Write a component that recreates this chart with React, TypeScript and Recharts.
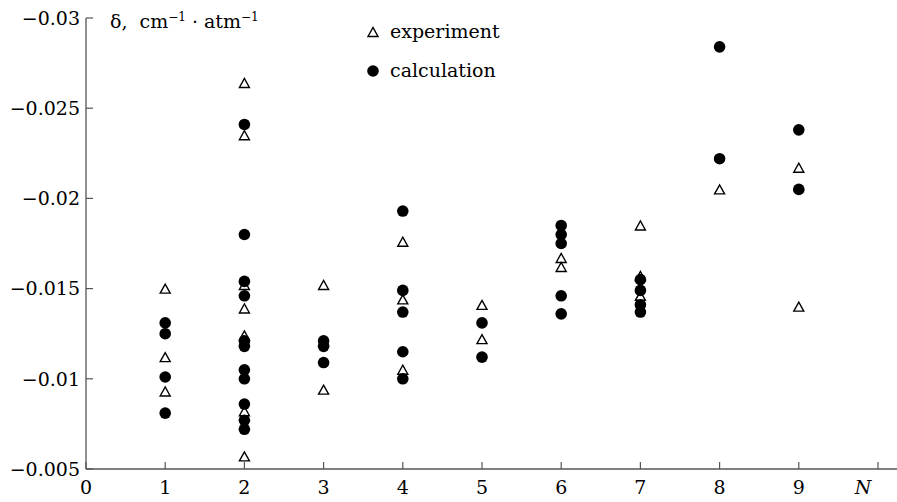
import React from 'react';
import { ScatterChart, Scatter, XAxis, YAxis, Legend } from 'recharts';

// experiment (open triangles)
const expN = [1, 1, 1, 2, 2, 2, 2, 2, 2, 2, 3, 3, 4, 4, 4, 5, 5, 6, 6, 7, 7, 7, 8, 9, 9];
const expDelta = [
  -0.015, -0.0112, -0.0093,
  -0.0264, -0.0235, -0.0152, -0.0139, -0.0124, -0.0082, -0.0057,
  -0.0152, -0.0094,
  -0.0176, -0.0144, -0.0105,
  -0.0141, -0.0122,
  -0.0167, -0.0162,
  -0.0185, -0.0157, -0.0146,
  -0.0205,
  -0.0217, -0.014,
];

// calculation (filled circles)
const calcN = [
  1, 1, 1, 1,
  2, 2, 2, 2, 2, 2, 2, 2, 2, 2, 2,
  3, 3, 3,
  4, 4, 4, 4, 4,
  5, 5,
  6, 6, 6, 6, 6,
  7, 7, 7, 7,
  8, 8,
  9, 9,
];
const calcDelta = [
  -0.0131, -0.0125, -0.0101, -0.0081,
  -0.0241, -0.018, -0.0154, -0.0146, -0.0121, -0.0118, -0.0105, -0.01, -0.0086, -0.0077, -0.0072,
  -0.0121, -0.0118, -0.0109,
  -0.0193, -0.0149, -0.0137, -0.0115, -0.01,
  -0.0131, -0.0112,
  -0.0185, -0.018, -0.0175, -0.0146, -0.0136,
  -0.0155, -0.0149, -0.0141, -0.0137,
  -0.0284, -0.0222,
  -0.0238, -0.0205,
];

const xTicks = [0, 1, 2, 3, 4, 5, 6, 7, 8, 9, 10];
const xTickLabels = ['0', '1', '2', '3', '4', '5', '6', '7', '8', '9', 'N'];
const yTicks = [-0.03, -0.025, -0.02, -0.015, -0.01, -0.005];
const yTickLabels = ['\u22120.03', '\u22120.025', '\u22120.02', '\u22120.015', '\u22120.01', '\u22120.005'];

const expData = expN.map((n, i) => ({ n, delta: expDelta[i] }));
const calcData = calcN.map((n, i) => ({ n, delta: calcDelta[i] }));

const FONT = '"DejaVu Serif", serif';
const AXIS = '#555';

const Triangle = (props: any) => {
  const { cx, cy } = props;
  return (
    <polygon
      points={`${cx - 5},${cy + 4.5} ${cx + 5},${cy + 4.5} ${cx},${cy - 4.5}`}
      fill="#fff"
      stroke="#000"
      strokeWidth={1.4}
    />
  );
};

const Dot = (props: any) => <circle cx={props.cx} cy={props.cy} r={5.8} fill="#000" />;

const XTick = (props: any) => {
  const { x, y, payload } = props;
  const idx = xTicks.indexOf(payload.value);
  const isN = payload.value === 10;
  return (
    <text
      x={isN ? x - 15 : x}
      y={y}
      dy="0.71em"
      textAnchor="middle"
      fontFamily={FONT}
      fontSize={19}
      fontStyle={isN ? 'italic' : 'normal'}
      fill="#000"
    >
      {xTickLabels[idx]}
    </text>
  );
};

const YTick = (props: any) => {
  const { x, y, payload } = props;
  const idx = yTicks.indexOf(payload.value);
  return (
    <text x={x} y={y} dy="0.355em" textAnchor="end" fontFamily={FONT} fontSize={19} fill="#000">
      {yTickLabels[idx]}
    </text>
  );
};

const LegendBox = () => (
  <div style={{ fontFamily: FONT, fontSize: 19, color: '#000', lineHeight: '39px' }}>
    <div style={{ display: 'flex', alignItems: 'center' }}>
      <svg width={14} height={12} style={{ marginRight: 10 }}>
        <polygon points="2,10.5 12,10.5 7,1.5" fill="#fff" stroke="#000" strokeWidth={1.4} />
      </svg>
      experiment
    </div>
    <div style={{ display: 'flex', alignItems: 'center' }}>
      <svg width={14} height={12} style={{ marginRight: 10 }}>
        <circle cx={7} cy={6} r={5.8} fill="#000" />
      </svg>
      calculation
    </div>
  </div>
);

export default function App() {
  return (
    <div style={{ position: 'absolute', left: 0, top: 0, width: 897, height: 502, background: '#fff' }}>
      <ScatterChart width={897} height={502} margin={{ top: 18, right: 0, bottom: 0, left: 0 }}>
        <XAxis
          type="number"
          dataKey="n"
          domain={[0, 10.24]}
          ticks={xTicks}
          interval={0}
          height={33}
          tickSize={-7}
          tickMargin={19}
          tick={<XTick />}
          stroke={AXIS}
          axisLine={{ stroke: AXIS, strokeWidth: 1.3 }}
          tickLine={{ stroke: AXIS, strokeWidth: 1.2 }}
        />
        <YAxis
          type="number"
          dataKey="delta"
          domain={[-0.03, -0.005]}
          reversed
          ticks={yTicks}
          interval={0}
          width={86}
          tickSize={-7}
          tickMargin={13}
          tick={<YTick />}
          stroke={AXIS}
          axisLine={{ stroke: AXIS, strokeWidth: 1.3 }}
          tickLine={{ stroke: AXIS, strokeWidth: 1.2 }}
        />
        <Legend
          layout="vertical"
          align="center"
          verticalAlign="middle"
          content={<LegendBox />}
          wrapperStyle={{ left: 366, top: 12, width: 'auto', height: 'auto' }}
        />
        <Scatter name="experiment" data={expData} shape={<Triangle />} isAnimationActive={false} />
        <Scatter name="calculation" data={calcData} shape={<Dot />} isAnimationActive={false} />
      </ScatterChart>
      <div
        style={{
          position: 'absolute',
          left: 110,
          top: 10,
          fontFamily: FONT,
          fontSize: 19,
          color: '#000',
          whiteSpace: 'pre',
        }}
      >
        δ,  cm<sup style={{ fontSize: 12 }}>−1</sup> · atm<sup style={{ fontSize: 12 }}>−1</sup>
      </div>
    </div>
  );
}
